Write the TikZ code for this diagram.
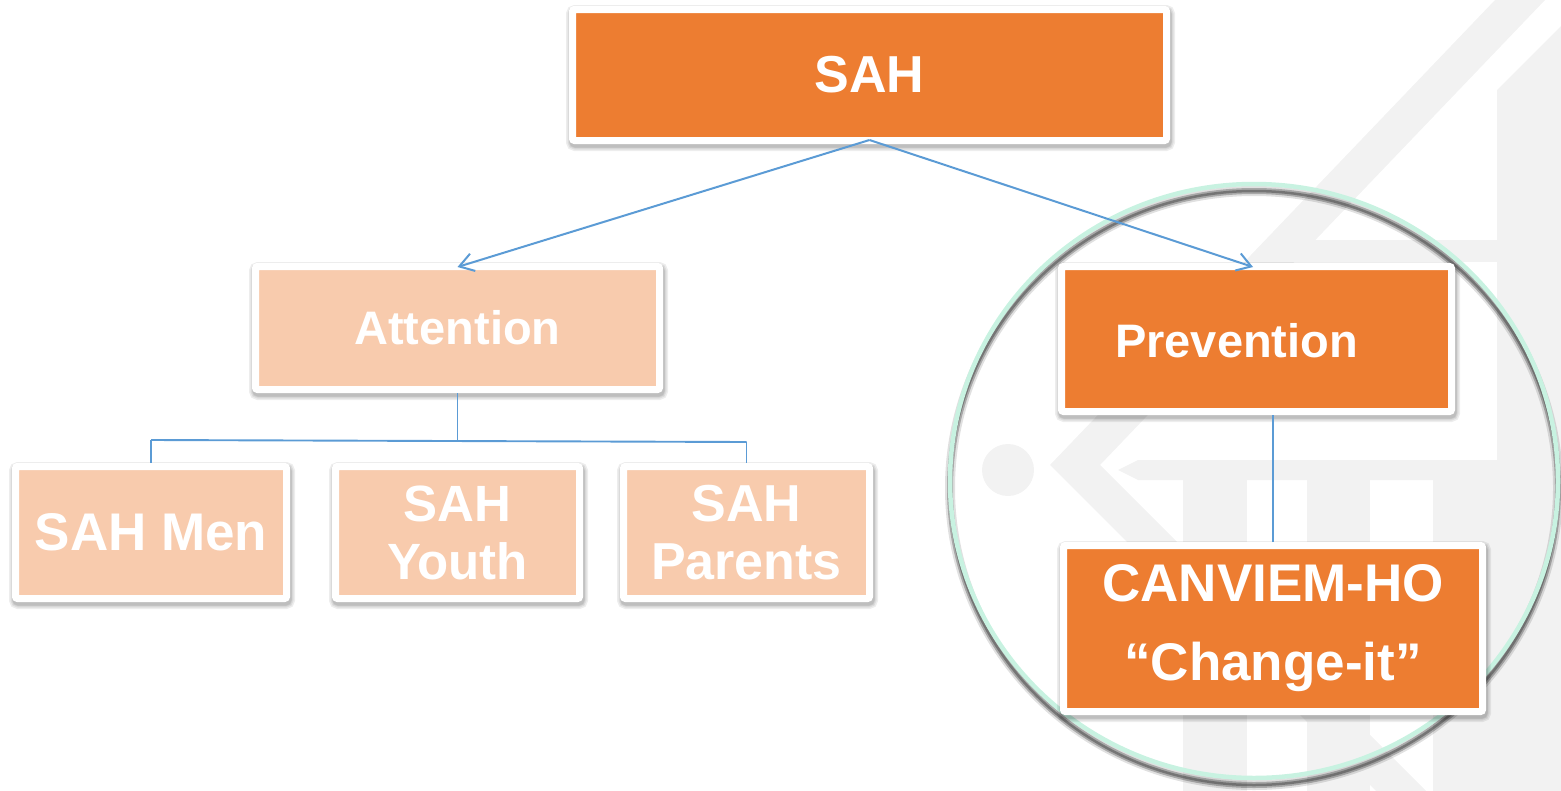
\documentclass[tikz,border=0pt]{standalone}
\usepackage{fontspec}
\setmainfont{Liberation Sans}
\usetikzlibrary{arrows.meta,shadows}
\definecolor{orangebox}{RGB}{237,125,49}
\definecolor{peachbox}{RGB}{248,203,173}
\definecolor{conn}{RGB}{91,155,213}
\definecolor{mint}{RGB}{200,242,225}
\definecolor{wm}{RGB}{242,242,242}
\tikzset{
  softshadow/.style={general shadow={draw=black, line width=#1, opacity=.07, shadow xshift=1pt, shadow yshift=-3pt}},
  boxbase/.style={rectangle, draw=white, line width=7pt, rounded corners=2pt,
    text=white, align=center, inner sep=0pt,
    softshadow=15pt, softshadow=12pt, softshadow=9.5pt, softshadow=8pt},
  orangefill/.style={boxbase, fill=orangebox},
  peachfill/.style={boxbase, fill=peachbox},
  link/.style={draw=conn, line width=1.9pt},
  arrowlink/.style={link, line width=2pt, -{Straight Barb[length=14pt,width=18pt,line width=2pt]}},
  txt/.style={font=\bfseries\fontsize{#1}{#1}\selectfont}
}
\begin{document}
\begin{tikzpicture}[x=1pt,y=-1pt]
\useasboundingbox (0,0) rectangle (1561,790);
% faint watermark logo
\fill[wm] (1495,0) -- (1545,0) -- (1100,465) -- (1426,791) -- (1376,791) -- (1050,465) -- cycle;
\fill[wm] (1008,470) circle [radius=26];
\fill[wm] (1118,470) -- (1138,460) -- (1561,460) -- (1561,480) -- (1138,480) -- cycle;
\fill[wm] (1183,480) rectangle (1247,791);
\fill[wm] (1307,480) rectangle (1370,791);
\fill[wm] (1433,480) rectangle (1561,791);
\fill[wm] (1497,90) -- (1587,0) -- (1600,0) -- (1600,791) -- (1497,791) -- cycle;
\fill[wm] (1270,240) rectangle (1497,262);
% ring
\draw[black, opacity=.12, line width=10pt] (1254,488) ellipse [x radius=304, y radius=297];
\draw[black, opacity=.25, line width=6pt] (1254,488) ellipse [x radius=304, y radius=297];
\draw[black!70, opacity=.55, line width=2.5pt] (1254,488) ellipse [x radius=304, y radius=297];
\draw[mint, line width=4.5pt] (1254,481) ellipse [x radius=304, y radius=297];
% boxes
\node[orangefill, minimum width=594pt, minimum height=131pt, txt=52] (sah) at (869.5,75) {SAH};
\node[peachfill, minimum width=404pt, minimum height=123pt, txt=47] (att) at (457.5,328) {Attention};
\node[orangefill, minimum width=390pt, minimum height=145pt] (prev) at (1256.5,339) {};
\node[txt=47, text=white, anchor=base west, inner sep=0pt] (prevlabel) at (1115,357) {Prevention};
\node[peachfill, minimum width=271pt, minimum height=132pt, txt=53] (men) at (151,532.5) {SAH Men};
\node[peachfill, minimum width=244pt, minimum height=132pt, font=\bfseries\fontsize{51}{58}\selectfont] (youth) at (457.5,532.5) {SAH\\Youth};
\node[peachfill, minimum width=246pt, minimum height=132pt, font=\bfseries\fontsize{52}{58}\selectfont] (par) at (746.5,532.5) {SAH\\Parents};
\node[orangefill, minimum width=419pt, minimum height=166pt, font=\bfseries\fontsize{53}{79}\selectfont] (canv) at (1273,628.5) {CANVIEM-HO\\“Change-it”};
% connectors
\coordinate (hub) at (457.5,442);
\coordinate (hubleft) at (151,442);
\coordinate (hubright) at (746.5,442);
\draw[arrowlink] ([yshift=4pt]sah.south) -- ([yshift=-4pt]att.north);
\draw[arrowlink] ([yshift=4pt]sah.south) -- ([xshift=-3.5pt,yshift=-4pt]prev.north);
\draw[link] (att.south) -- (hub);
\draw[link] ([yshift=2pt]hubleft) -- (hubright);
\draw[link] ([yshift=2pt]hubleft) -- (men.north);
\draw[link] (hubright) -- (par.north);
\draw[link, line width=1.5pt] (canv.north) -- (canv.north |- prev.south);
\end{tikzpicture}
\end{document}
